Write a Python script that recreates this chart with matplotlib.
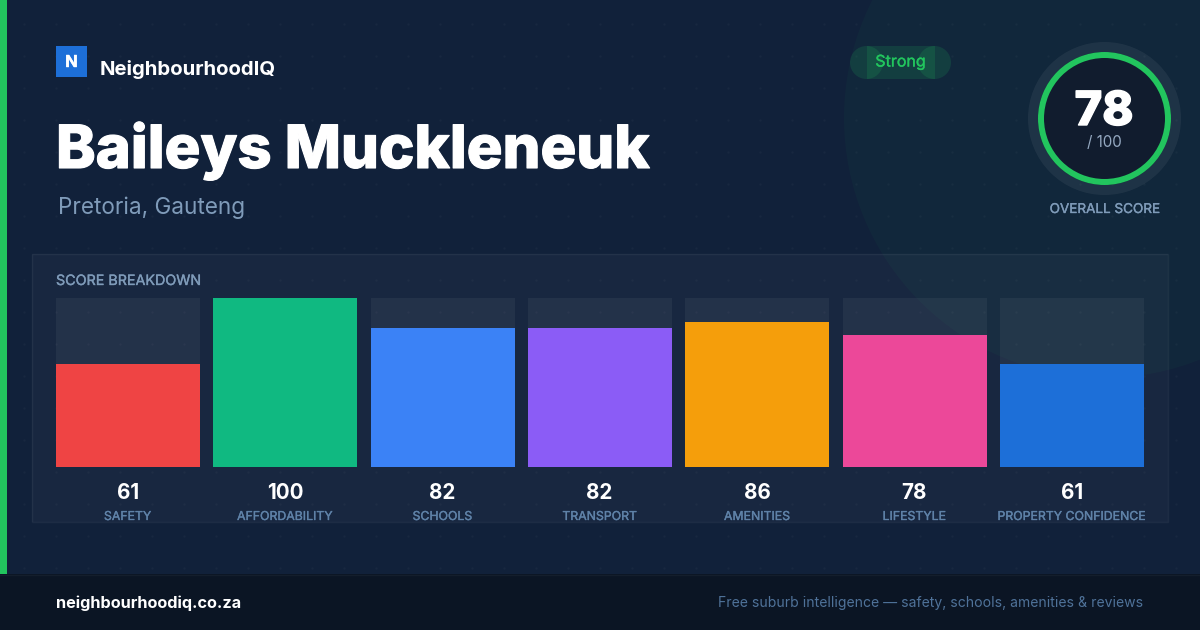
import matplotlib
matplotlib.use("Agg")
import matplotlib.pyplot as plt
import matplotlib.patheffects as pe
import numpy as np
from matplotlib.patches import Rectangle, Circle, Wedge

plt.rcParams['font.family'] = ['Inter', 'DejaVu Sans']

# data
categories = ["SAFETY", "AFFORDABILITY", "SCHOOLS", "TRANSPORT", "AMENITIES",
              "LIFESTYLE", "PROPERTY CONFIDENCE"]
scores = [61, 100, 82, 82, 86, 78, 61]
bar_colors = ["#ef4444", "#10b981", "#3b82f6", "#8b5cf6", "#f59e0b", "#ec4899", "#1d6fd8"]
overall_score = 78
suburb = "Baileys Muckleneuk"
place = "Pretoria, Gauteng"

BG = "#11213a"
GREEN = "#22c55e"
MUTED = "#7f9bb9"
LABEL = "#5f82a8"


def px(size):
    return size * 0.72  # css px to pt at dpi 100


def thick(width, color="white"):
    # only regular and bold render here, a thin outline fakes the weights around them
    return [pe.withStroke(linewidth=width, foreground=color)]


fig = plt.figure(figsize=(12, 6.3), dpi=100, facecolor=BG)

# page layer, in pixel coordinates
ax = fig.add_axes([0, 0, 1, 1], zorder=0)
ax.set_xlim(0, 1200)
ax.set_ylim(630, 0)
ax.axis("off")

# faint dot grid
gx, gy = np.meshgrid(np.arange(24, 1200, 32), np.arange(24, 574, 32))
ax.scatter(gx.ravel(), gy.ravel(), s=3, color="white", alpha=0.03, linewidths=0, zorder=1)

# big glow circle
ax.add_patch(Circle((1104, 118), 260, fc=GREEN, alpha=0.04, ec="none", zorder=2))

# left strip and footer
ax.add_patch(Rectangle((0, 0), 7, 574, fc=GREEN, ec="none", zorder=3))
ax.add_patch(Rectangle((0, 574), 1200, 56, fc="#0b1524", ec="none", zorder=3))
ax.plot([0, 1200], [574.5, 574.5], color="white", alpha=0.04, lw=1, zorder=4)

# logo
ax.add_patch(Rectangle((56, 46), 31, 31, fc="#1d6fd8", ec="none", zorder=3))
ax.text(71.5, 67, "N", color="white", fontsize=px(16.5), fontweight="bold", ha="center", va="baseline",
        path_effects=thick(0.3), zorder=5)
ax.text(100, 75, "NeighbourhoodIQ", color="white", fontsize=px(20.3), fontweight="bold", ha="left", va="baseline", zorder=5)

# title
ax.text(56, 168, suburb, color="white", fontsize=px(59.7), fontweight="heavy", ha="left", va="baseline",
        path_effects=thick(0.8), zorder=5)
ax.text(58, 214, place, color=MUTED, fontsize=px(22.6), ha="left", va="baseline", zorder=5)

# badge, the overlapping translucent pieces are in the original too
for patch in (Circle((866.5, 62.5), 16.5), Circle((934.5, 62.5), 16.5),
              Rectangle((866.5, 46), 68, 33)):
    patch.set(fc=GREEN, alpha=0.15, ec="none", zorder=3)
    ax.add_patch(patch)
ax.text(900.5, 62, "Strong", color=GREEN, fontsize=px(16), ha="center", va="center",
        path_effects=thick(0.25, GREEN), zorder=5)

# score ring
ax.add_patch(Circle((1104.5, 118.5), 76.5, fc="white", alpha=0.06, ec="none", zorder=3))
ax.add_patch(Circle((1104.5, 118.5), 66.5, fc="#111c2e", ec="none", zorder=4))
ax.add_patch(Wedge((1104.5, 118.5), 66.5, 0, 360, width=6, fc=GREEN, ec="none", zorder=5))
ax.text(1104, 125, str(overall_score), color="white", fontsize=px(47), fontweight="heavy", ha="center", va="baseline",
        path_effects=thick(1.0), zorder=6)
ax.text(1104.5, 147, "/ 100", color="#94a8c0", fontsize=px(15.2), ha="center", va="baseline", zorder=6)
ax.text(1104.5, 213, "OVERALL SCORE", color=MUTED, fontsize=px(13.5), ha="center", va="baseline",
        path_effects=thick(0.25, MUTED), zorder=6)

# panel
ax.add_patch(Rectangle((32, 254), 1136, 268, fc="white", alpha=0.03, ec="none", zorder=3))
ax.add_patch(Rectangle((32, 254), 1136, 268, fc="none", ec="white", alpha=0.05, lw=1, zorder=3))
ax.text(56, 285, "SCORE BREAKDOWN", color=MUTED, fontsize=px(14.3), ha="left", va="baseline",
        path_effects=thick(0.25, MUTED), zorder=5)

# footer text
ax.text(56, 608, "neighbourhoodiq.co.za", color="white", fontsize=px(16.25), fontweight="bold", ha="left", va="baseline", zorder=5)
ax.text(1143, 607, "Free suburb intelligence \u2014 safety, schools, amenities & reviews",
        color="#4f7299", fontsize=px(14), ha="right", va="baseline", zorder=5)

# bars
step = (1144 - 56 - 144) / 6
bar_w = 144 / step
ax_bars = fig.add_axes([56 / 1200, (630 - 467) / 630, 1088 / 1200, 169 / 630], zorder=1)
ax_bars.patch.set_alpha(0)
ax_bars.set_xlim(-bar_w / 2, 6 + bar_w / 2)
ax_bars.set_ylim(0, 100)
ax_bars.axis("off")

x = np.arange(len(categories))
ax_bars.bar(x, [100] * len(x), width=bar_w, color="white", alpha=0.05, linewidth=0)
ax_bars.bar(x, scores, width=bar_w, color=bar_colors, linewidth=0)

for i, (name, score) in enumerate(zip(categories, scores)):
    ax_bars.annotate(str(score), (i, 0), xytext=(-0.3, px(-32)), textcoords="offset points",
                     color="white", fontsize=px(20.6), fontweight="bold",
                     ha="center", va="baseline", annotation_clip=False)
    ax_bars.annotate(name, (i, 0), xytext=(-0.3, px(-53)), textcoords="offset points",
                     color=LABEL, fontsize=px(12.3),
                     ha="center", va="baseline", annotation_clip=False,
                     path_effects=thick(0.25, LABEL))

fig.savefig("out.png", dpi=100, facecolor=fig.get_facecolor())
